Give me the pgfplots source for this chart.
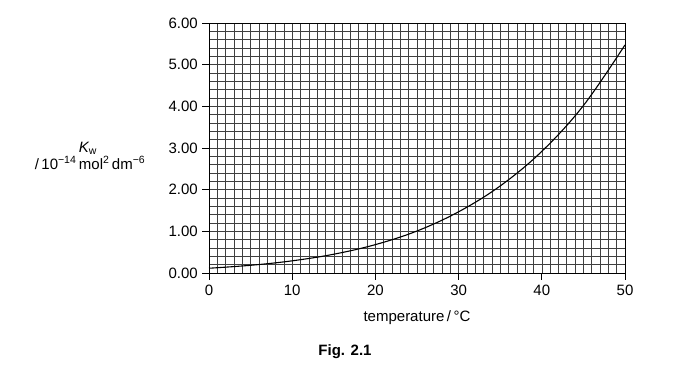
\documentclass[border=0pt]{standalone}
\usepackage{fontspec}
\setmainfont{Liberation Sans}
\usepackage{pgfplots}
\pgfplotsset{compat=1.18}
\begin{document}
\fontsize{15}{18}\selectfont
\begin{tikzpicture}[x=1pt,y=1pt]
\path (0,0) rectangle (698,382);
\begin{axis}[
  at={(209pt,109pt)}, anchor=south west,
  scale only axis, width=416pt, height=250pt,
  xmin=0, xmax=50, ymin=0, ymax=6,
  axis line style={line width=0.8pt},
  xtick={0,10,...,50},
  ytick={0,1,...,6},
  yticklabel style={xshift=1pt, /pgf/number format/.cd, fixed, fixed zerofill, precision=2},
  /pgf/number format/assume math mode=true,
  tick align=outside, tick style={black, line width=0.8pt},
  major tick length=7pt,
  xtick pos=bottom, ytick pos=left,
  ticklabel style={font=\fontsize{15}{18}\selectfont},
  clip=false,
]
\pgfplotsinvokeforeach{1,...,49}{
  \draw[black!75, line width=0.6pt] (axis cs:#1,0) -- (axis cs:#1,6);
}
\pgfplotsinvokeforeach{1,...,29}{
  \draw[black!75, line width=0.6pt] (axis cs:0,#1/5) -- (axis cs:50,#1/5);
}
\draw[line width=0.8pt] (axis cs:0,0) rectangle (axis cs:50,6);
\addplot[black, line width=1.1pt, smooth, tension=0.6] coordinates {
(0,0.114) (5,0.185) (10,0.292) (15,0.451) (20,0.681) (25,1.008)
(30,1.469) (35,2.089) (40,2.919) (45,4.018) (50,5.474)
};
\end{axis}
\node at (417,64) {temperature\,/\,°C};
\node at (88,234) {\itshape K\textsubscript{\normalfont w}};
\node at (90,219) {/\,10\textsuperscript{−14}\,mol\textsuperscript{2}\,dm\textsuperscript{−6}};
\node[font=\bfseries\fontsize{15}{18}\selectfont] at (345,30) {Fig. 2.1};
\end{tikzpicture}
\end{document}
